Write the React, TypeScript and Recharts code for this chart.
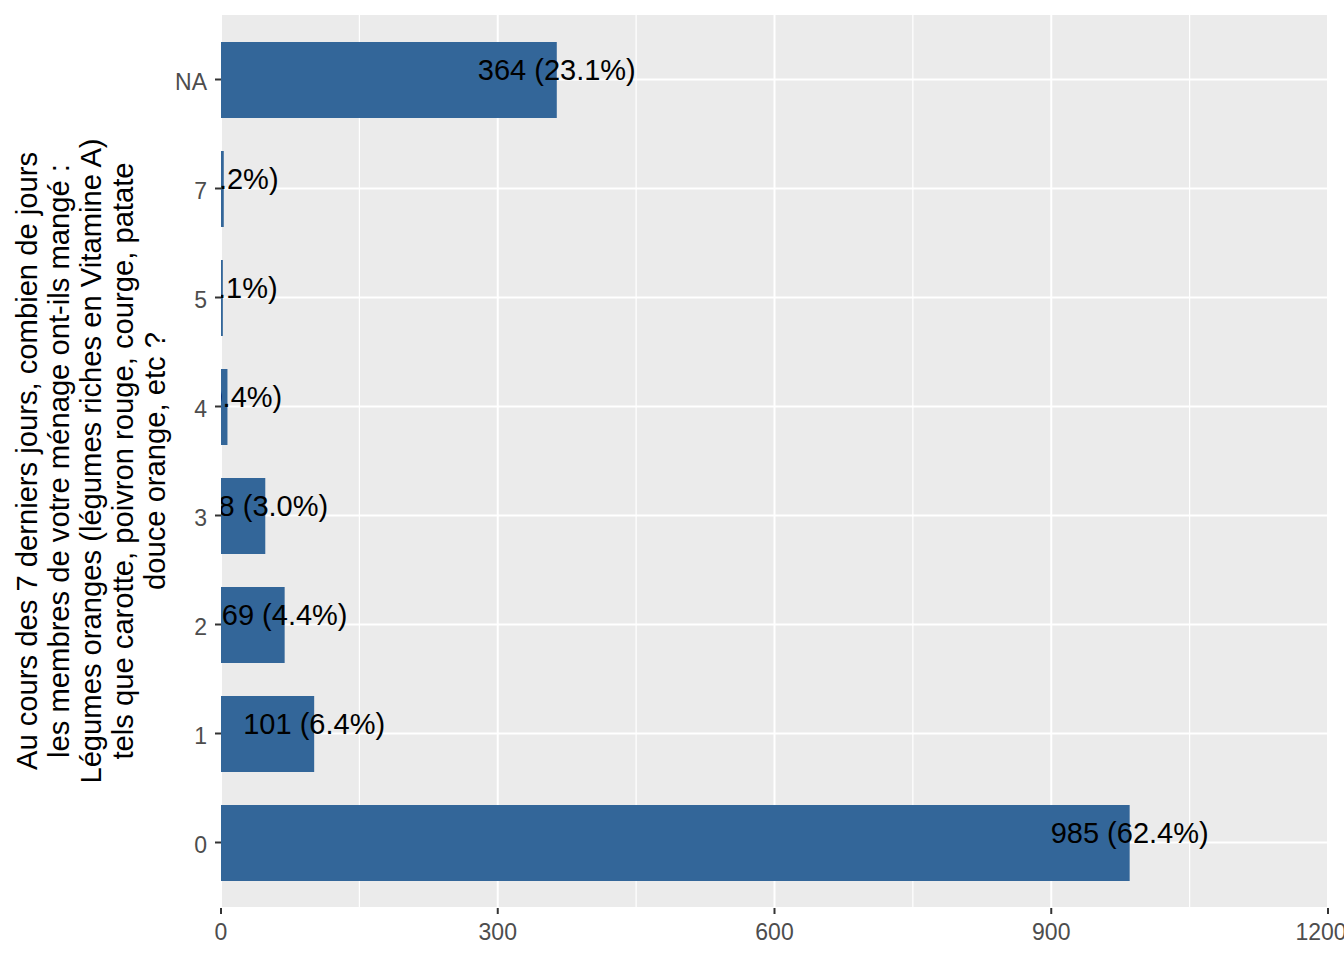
import { BarChart, Bar, XAxis, YAxis, CartesianGrid, LabelList } from 'recharts';

// answer categories, top to bottom as drawn
const categories = ['NA', '7', '5', '4', '3', '2', '1', '0'];
const counts = [364, 3, 2, 7, 48, 69, 101, 985];
const percents = ['23.1%', '0.2%', '0.1%', '0.4%', '3.0%', '4.4%', '6.4%', '62.4%'];

const xDomain = [0, 1200];
const majorTicks = [0, 300, 600, 900, 1200];
const minorTicks = [150, 450, 750, 1050];

const titleLines = [
  'Au cours des 7 derniers jours, combien de jours',
  'les membres de votre ménage ont-ils mangé :',
  'Légumes oranges (légumes riches en Vitamine A)',
  'tels que carotte, poivron rouge, courge, patate',
  'douce orange, etc ?',
];

const data = categories.map((cat, i) => ({
  cat,
  n: counts[i],
  label: `${counts[i]} (${percents[i]})`,
}));

const FONT = '"Liberation Sans", Arial, sans-serif';

// bar label centred on the bar end, clipped to the panel like ggplot does
const BarLabel = (props: any) => {
  const vb = props.viewBox ?? props;
  const { x, y, width, height } = vb;
  const idx = props.index;
  const id = `clip-lbl-${idx}`;
  return (
    <g>
      <defs>
        <clipPath id={id}>
          <rect x={x} y={y - 100} width={2000} height={height + 200} />
        </clipPath>
      </defs>
      <text
        x={x + width}
        y={y + height / 2}
        textAnchor="middle"
        fontSize={29}
        fontFamily={FONT}
        fill="#000"
        clipPath={`url(#${id})`}
      >
        {data[idx]?.label}
      </text>
    </g>
  );
};

const AxisTitle = (props: any) => {
  const { x, y, height } = props.viewBox;
  const cx = x + 37;
  const cy = y + height / 2;
  return (
    <text
      x={cx}
      y={cy}
      transform={`rotate(-90, ${cx}, ${cy})`}
      textAnchor="middle"
      fontSize={29.2}
      fontFamily={FONT}
      fill="#000"
    >
      {titleLines.map((line, i) => (
        <tspan key={i} x={cx} dy={i === 0 ? 0 : 32}>
          {line}
        </tspan>
      ))}
    </text>
  );
};

// minor vertical grid lines, positioned through the x axis scale
const minorLines = ({ xAxis, offset }: any) => {
  const s = xAxis?.scale;
  return minorTicks.map((v) => {
    try {
      if (typeof s === 'function') return s(v);
      if (s && typeof s.map === 'function') return s.map(v);
      if (s && typeof s.apply === 'function') return s.apply(v);
    } catch (e) {
      // fall through
    }
    return offset.left + ((v - xDomain[0]) / (xDomain[1] - xDomain[0])) * offset.width;
  });
};

export default function App() {
  return (
    <div style={{ position: 'absolute', left: 0, top: 0, background: '#fff' }}>
      <BarChart
        width={1344}
        height={960}
        data={data}
        layout="vertical"
        margin={{ top: 14, right: 16, bottom: 0, left: 0 }}
        style={{ fontFamily: FONT }}
      >
        <CartesianGrid
          horizontal={false}
          verticalCoordinatesGenerator={minorLines}
          stroke="#fff"
          strokeWidth={1.2}
          fill="#EBEBEB"
        />
        <CartesianGrid stroke="#fff" strokeWidth={2} fill="none" />
        <XAxis
          type="number"
          domain={xDomain}
          ticks={majorTicks}
          height={52}
          axisLine={false}
          tickLine={{ stroke: '#333', strokeWidth: 2 }}
          tickSize={6}
          tickMargin={10}
          tick={{ fontSize: 23, fill: '#4D4D4D' }}
          allowDataOverflow
        />
        <YAxis
          type="category"
          dataKey="cat"
          width={221}
          axisLine={false}
          tickLine={{ stroke: '#333', strokeWidth: 2 }}
          tickSize={6}
          tickMargin={8}
          tick={{ fontSize: 23, fill: '#4D4D4D', dy: 2 }}
          padding={{ top: 11, bottom: 11 }}
          label={<AxisTitle />}
        />
        <Bar dataKey="n" fill="#336699" barSize={76} isAnimationActive={false}>
          <LabelList dataKey="n" content={<BarLabel />} />
        </Bar>
      </BarChart>
    </div>
  );
}
